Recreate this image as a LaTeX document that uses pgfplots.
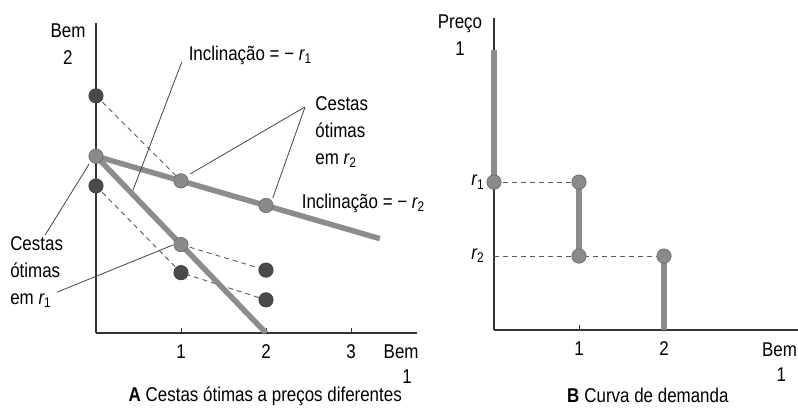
\documentclass[border=0pt]{standalone}
\usepackage{fontspec}
\setmainfont[FakeStretch=0.85]{Liberation Sans}
\usepackage{pgfplots}
\pgfplotsset{compat=1.18}

\definecolor{axisc}{HTML}{333333}
\definecolor{thickc}{HTML}{8C8C8C}
\definecolor{dotg}{HTML}{8A8A8A}
\definecolor{dotd}{HTML}{4A4A4A}
\definecolor{dashc}{HTML}{5A5A5A}
\definecolor{leadc}{HTML}{444444}

\newcommand\lbl{\fontsize{20}{27}\selectfont}
\newcommand\rr[1]{{\itshape r}\textsubscript{#1}}

\pgfplotsset{
  panel/.style={
    x=85bp, y=85bp, xmin=0, ymin=0, clip=false,
    axis x line=bottom, axis y line=left,
    axis line style={-, draw=axisc, line width=1.8bp},
    ytick=\empty, tick align=inside, major tick length=5bp,
    tick style={draw=axisc, line width=1bp},
    xticklabel style={font=\lbl, yshift=-8bp},
    /pgf/number format/assume math mode=true,
    anchor=south west,
  },
  budget/.style={thickc, line width=5.5bp},
  dash/.style={dashc, line width=0.9bp, dash pattern=on 5bp off 4bp},
  gdot/.style={only marks, mark=*, mark size=7.2bp,
    mark options={fill=dotg, draw=dotg!75!black, line width=0.6bp}},
  ddot/.style={only marks, mark=*, mark size=7.2bp,
    mark options={fill=dotd, draw=dotd!80!black, line width=0.6bp}},
}

\begin{document}
\begin{tikzpicture}
\path[use as bounding box] (0,0) rectangle (798bp,412bp);

% ---- A: cestas otimas a precos diferentes
\begin{axis}[panel, at={(96bp,79bp)}, xmax=3.78, ymax=3.65, xtick={1,2,3}]
  % dashed links between bundles
  \addplot[dash] coordinates {(0,2.79) (1,1.79)};
  \addplot[dash] coordinates {(0,1.73) (1,0.71) (2,0.39)};
  \addplot[dash] coordinates {(1,1.04) (2,0.74)};
  % budget lines
  \addplot[budget] coordinates {(0,2.08) (3.34,1.11)};
  \addplot[budget] coordinates {(0,2.08) (2,0)};
  % leaders
  \draw[leadc, line width=0.8bp] (axis cs:1.01,3.19) -- (axis cs:0.435,1.68);
  \draw[leadc, line width=0.8bp] (axis cs:2.46,2.66) -- (axis cs:1.106,1.87);
  \draw[leadc, line width=0.8bp] (axis cs:2.46,2.66) -- (axis cs:2.08,1.59);
  \draw[leadc, line width=0.8bp] (axis cs:-0.6,1.15) -- (axis cs:-0.08,1.99);
  \draw[leadc, line width=0.8bp] (axis cs:-0.46,0.48) -- (axis cs:0.906,1.035);
  % bundles
  \addplot[ddot] coordinates {(0,2.79) (0,1.73) (1,0.71) (2,0.74) (2,0.39)};
  \addplot[gdot] coordinates {(0,2.08) (1,1.79) (2,1.50) (1,1.04)};
  % texts
  \node[font=\lbl, align=center] at (axis cs:-0.33,3.40) {Bem\\2};
  \node[font=\lbl, anchor=west] at (axis cs:1.05,3.27) {Inclinação = − \rr{1}};
  \node[font=\lbl, anchor=west, align=left] at (axis cs:2.54,2.36) {Cestas\\ótimas\\em \rr{2}};
  \node[font=\lbl, anchor=west] at (axis cs:2.38,1.53) {Inclinação = − \rr{2}};
  \node[font=\lbl, anchor=west, align=left] at (axis cs:-1.05,0.72) {Cestas\\ótimas\\em \rr{1}};
  \node[font=\lbl] at (axis cs:3.59,-0.22) {Bem};
  \node[font=\lbl] at (axis cs:3.66,-0.51) {1};
  \node[font=\lbl] at (axis cs:1.99,-0.74) {\textbf{A}\hspace{5bp}Cestas ótimas a preços diferentes};
\end{axis}

% ---- B: curva de demanda
\begin{axis}[panel, at={(494bp,82bp)}, xmax=3.58, ymax=3.67, xtick={1,2}]
  \addplot[dash] coordinates {(0,1.74) (1,1.74)};
  \addplot[dash] coordinates {(0,0.87) (2,0.87)};
  \addplot[budget] coordinates {(0,3.29) (0,1.74)};
  \addplot[budget] coordinates {(1,1.74) (1,0.87)};
  \addplot[budget] coordinates {(2,0.87) (2,0)};
  \addplot[gdot] coordinates {(0,1.74) (1,1.74) (1,0.87) (2,0.87)};
  \node[font=\lbl] at (axis cs:-0.19,1.74) {\rr{1}};
  \node[font=\lbl] at (axis cs:-0.19,0.87) {\rr{2}};
  \node[font=\lbl, align=center] at (axis cs:-0.40,3.47) {Preço\\1};
  \node[font=\lbl] at (axis cs:3.36,-0.235) {Bem};
  \node[font=\lbl] at (axis cs:3.38,-0.53) {1};
  \node[font=\lbl] at (axis cs:1.81,-0.765) {\textbf{B}\hspace{5bp}Curva de demanda};
\end{axis}
\end{tikzpicture}
\end{document}
